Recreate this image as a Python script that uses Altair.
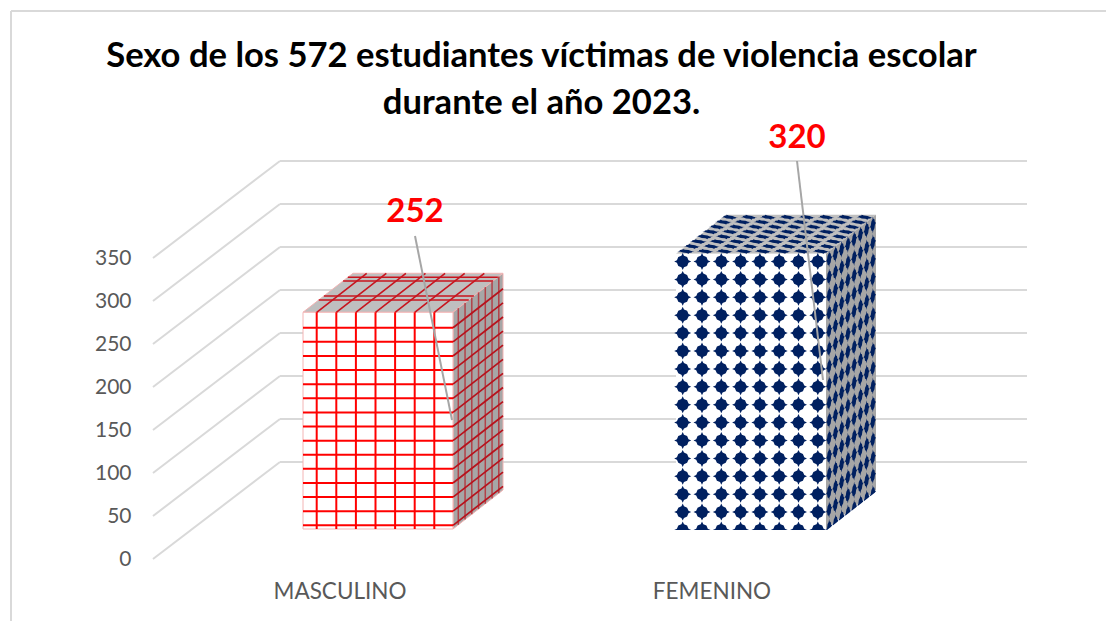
import altair as alt
import pandas as pd

# ---- chart values ----
CATEGORIES = ["MASCULINO", "FEMENINO"]
VALUES = [252, 320]
TICKS = [0, 50, 100, 150, 200, 250, 300, 350]
TITLE_LINES = ["Sexo de los 572 estudiantes víctimas de violencia escolar",
               "durante el año 2023."]

# ---- layout (page pixels) ----
W, H = 1098, 613
PX_PER_UNIT = 0.86
FRONT_ZERO = 559
def vy(py):
    return (FRONT_ZERO - py) / PX_PER_UNIT
def xx(px):
    return px - 8

BASE_Y = 529
BAR_LEFT = [303, 676]
BAR_W = 150
DEPTH_X, DEPTH_Y = 50, -39
WALL_X, WALL_Y = 127, -97
WALL_RIGHT = 1027
LABEL_X = [340, 712]
LABEL_Y = 592
VALUE_POS = [(415, 211.5), (797, 138)]
LEADERS = [((415, 236), (452, 420)), ((797, 161), (823, 380))]

xs = alt.Scale(domain=[0, W], range=[0, W], nice=False, zero=False)
ys = alt.Scale(domain=[vy(8 + H), vy(8)], range=[H, 0], nice=False, zero=False)
X = alt.X("x:Q", scale=xs, axis=None)
Y = alt.Y("y:Q", scale=ys, title=None, axis=alt.Axis(
    values=TICKS, domain=False, ticks=False, grid=False, offset=-123, labelPadding=0,
    labelFont="Lato", labelFontSize=21, labelColor="#595959", labelBaseline="middle"))


def top_y(value):
    return BASE_Y - value * PX_PER_UNIT


def rules(segments, color, width, opacity=1.0, cap="butt"):
    df = pd.DataFrame(
        [dict(x=xx(a[0]), x2=xx(b[0]), y=vy(a[1]), y2=vy(b[1])) for a, b in segments]
    )
    return alt.Chart(df).mark_rule(
        color=color, strokeWidth=width, opacity=opacity, strokeCap=cap
    ).encode(x=X, x2="x2:Q", y=Y, y2="y2:Q")


def poly(rows, color, stroke=None, sw=1):
    """rows: (px, py_low, py_high) columns of an area"""
    df = pd.DataFrame(
        [dict(x=xx(p), y=vy(a), y2=vy(b)) for p, a, b in rows]
    )
    kw = dict(stroke=stroke, strokeWidth=sw) if stroke else {}
    return alt.Chart(df).mark_area(color=color, **kw).encode(x=X, y=Y, y2="y2:Q")


def faces(left, value, front, top, side, edge=None):
    r = left + BAR_W
    t = top_y(value)
    out = []
    out.append(poly([(left, t, t), (left + DEPTH_X, t, t + DEPTH_Y),
                     (r, t, t + DEPTH_Y), (r + DEPTH_X, t + DEPTH_Y, t + DEPTH_Y)], top, edge))
    out.append(poly([(r, BASE_Y, t), (r + DEPTH_X, BASE_Y + DEPTH_Y, t + DEPTH_Y)], side, edge))
    fr = pd.DataFrame([dict(x=xx(left), x2=xx(r), y=vy(t), y2=vy(BASE_Y))])
    kw = dict(stroke=edge, strokeWidth=1) if edge else {}
    out.append(alt.Chart(fr).mark_rect(color=front, opacity=1, **kw).encode(x=X, x2="x2:Q", y=Y, y2="y2:Q"))
    return out


def grid_pattern(left, value):
    r = left + BAR_W
    t = top_y(value)
    col_x = [316.7 + 19.6 * k for k in range(7)]
    row_y = [525.3 - 14.11 * k for k in range(15)]
    side_f = [(5.3 + 6.75 * k) / DEPTH_X for k in range(7)]
    top_y_rows = [277.3, 281, 296, 300]
    front = [((x, t), (x, BASE_Y)) for x in col_x] + [((left, y), (r, y)) for y in row_y]
    side_v = [((r + f * DEPTH_X, t + f * DEPTH_Y), (r + f * DEPTH_X, BASE_Y + f * DEPTH_Y)) for f in side_f]
    side_d = [((r, y), (r + DEPTH_X, y + DEPTH_Y)) for y in row_y]
    top_d = [((x, t), (x + DEPTH_X, t + DEPTH_Y)) for x in col_x]
    top_h = []
    for y in top_y_rows:
        f = (y - t) / DEPTH_Y
        top_h.append(((left + f * DEPTH_X, y), (r + f * DEPTH_X, y)))
    return [
        rules(top_d + top_h, "#c8141e", 1.6),
        rules(side_v, "#b5202a", 1.5, 0.75),
        rules(side_d, "#b8121c", 1.7),
        rules(front, "#ff0000", 2),
    ]


UNIT = [(1, 0), (.68, -.15), (.52, -.52), (.15, -.68), (0, -1), (-.15, -.68), (-.52, -.52), (-.68, -.15),
        (-1, 0), (-.68, .15), (-.52, .52), (-.15, .68), (0, 1), (.15, .68), (.52, .52), (.68, .15)]


def shape(a, b, c, d):
    pts = [(a * u + b * v, c * u + d * v) for u, v in UNIT]
    return "M" + "L".join(f"{x:.2f},{y:.2f}" for x, y in pts) + "Z"


NAVY = "#002060"


def symbols(points, path):
    df = pd.DataFrame([dict(x=xx(p[0]), y=vy(p[1])) for p in points])
    return alt.Chart(df).mark_point(
        shape=path, filled=True, color=NAVY, size=4, opacity=1, strokeWidth=0
    ).encode(x=X, y=Y)


def diamond_pattern(left, value):
    r = left + BAR_W
    t = top_y(value)
    rows = [y for y in (530 - 17.9 * k for k in range(20)) if y > t + 3]
    cols = [6.7 + 19.3 * j for j in range(8)]
    front = [(left + c, y) for c in cols for y in rows]
    side = []
    for j in range(8):
        f = (j + 0.5) / 8
        side += [(r + f * DEPTH_X, y + f * DEPTH_Y) for y in rows]
    top = []
    for i in range(8):
        f = (i + 0.5) / 8
        top += [(left + c + f * DEPTH_X, t + f * DEPTH_Y) for c in cols]
    cover = poly([(left - 2, BASE_Y + 1, BASE_Y + 12), (r + 1, BASE_Y + 1, BASE_Y + 12),
                  (r + DEPTH_X + 1, BASE_Y + DEPTH_Y + 1, BASE_Y + 12)], "#ffffff")
    return [
        symbols(top, shape(8.5, 3.0, 0, 2.4)),
        symbols(side, shape(3.0, 0, -2.3, 8.5)),
        symbols(front, shape(8.5, 0, 0, 8.5)),
        cover,
    ]


# ---- background ----
layers = []
BORDER = "#d9d9d9"
layers.append(rules([((11, 11), (8 + W, 11)), ((11, 11), (11, 8 + H))], BORDER, 2))
grid_segments = []
for v in TICKS:
    py = FRONT_ZERO - v * PX_PER_UNIT
    grid_segments.append(((153, py), (153 + WALL_X, py + WALL_Y)))
    grid_segments.append(((153 + WALL_X, py + WALL_Y), (WALL_RIGHT, py + WALL_Y)))
layers.append(rules(grid_segments, "#d9d9d9", 2))

# ---- bars ----
layers += faces(BAR_LEFT[0], VALUES[0], "#ffffff", "#bfbfbf", "#a6a6a6", "#f3b4b4")
layers += grid_pattern(BAR_LEFT[0], VALUES[0])
layers += faces(BAR_LEFT[1], VALUES[1], "#ffffff", "#bfbfbf", "#a6a6a6")
layers += diamond_pattern(BAR_LEFT[1], VALUES[1])

# ---- leader lines and texts ----
layers.append(rules(LEADERS, "#a6a6a6", 2))
label_df = pd.DataFrame({"x": [xx(p) for p in LABEL_X], "y": [vy(LABEL_Y)] * 2, "t": CATEGORIES})
layers.append(
    alt.Chart(label_df).mark_text(font="Lato", fontSize=22.5, color="#595959", baseline="middle", align="center")
    .encode(x=X, y=Y, text="t:N")
)
value_df = pd.DataFrame({
    "x": [xx(p[0]) for p in VALUE_POS], "y": [vy(p[1]) for p in VALUE_POS], "t": [str(v) for v in VALUES]
})
layers.append(
    alt.Chart(value_df).mark_text(font="Lato", fontSize=33, fontWeight="bold", color="#ff0000",
                                  baseline="middle", align="center")
    .encode(x=X, y=Y, text="t:N")
)

chart = alt.layer(*layers).properties(
    width=W,
    height=H,
    padding=0,
    background="#ffffff",
    autosize=alt.AutoSizeParams(type="none"),
    title=alt.TitleParams(
        text=TITLE_LINES, font="Lato", fontSize=34.6, fontWeight="bold", color="#000000",
        anchor="middle", frame="group", dx=-15.5, dy=118, lineHeight=47,
    ),
).configure_view(stroke=None)

chart.save("out.html", embed_options={"renderer": "svg", "actions": False})
